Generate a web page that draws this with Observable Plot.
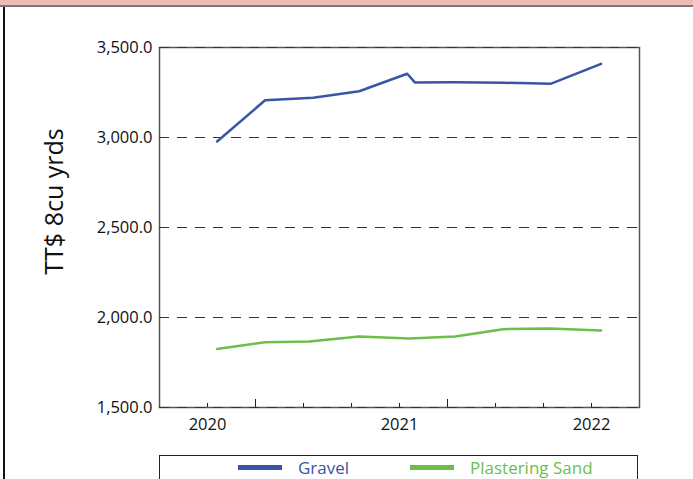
<!DOCTYPE html>
<html>
<head>
<meta charset="utf-8">
<script src="https://cdn.jsdelivr.net/npm/d3@7"></script>
<script src="https://cdn.jsdelivr.net/npm/@observablehq/plot@0.6"></script>
<style>
  html, body { margin: 0; padding: 0; background: #fff; width: 693px; height: 479px; overflow: hidden; }
  body { position: relative; font-family: "Open Sans", "Noto Sans", sans-serif; }
  #band { position: absolute; left: 0; top: 0; width: 693px; height: 5px; background: #e9bcb4; border-bottom: 2px solid #7f7473; }
  #leftline { position: absolute; left: 3px; top: 7px; width: 2px; height: 472px; background: #111; }
  #chart { position: absolute; left: 0; top: 0; }
  #legend { position: absolute; left: 159px; top: 455px; width: 479px; height: 40px; border: 1px solid #222; box-sizing: border-box; }
  .item { position: absolute; top: 3px; font-size: 17px; line-height: 17px; display: flex; align-items: center; }
  .sw { display: inline-block; width: 44px; height: 5px; margin-right: 16px; }
</style>
</head>
<body>
<div id="band"></div>
<div id="leftline"></div>
<div id="chart"></div>
<div id="legend"></div>
<script>
const yTitle = "TT$ 8cu yrds";
const seriesNames = ["Gravel", "Plastering Sand"];
const seriesColors = ["#3b55a6", "#6bbf4a"];
const gravelX = [2020.05, 2020.30, 2020.55, 2020.79, 2021.04, 2021.08, 2021.29, 2021.54, 2021.79, 2022.05];
const gravelY = [2978, 3207, 3221, 3257, 3354, 3306, 3307, 3304, 3299, 3409];
const sandX = [2020.05, 2020.30, 2020.53, 2020.79, 2021.05, 2021.29, 2021.54, 2021.78, 2022.05];
const sandY = [1825, 1863, 1867, 1894, 1884, 1894, 1935, 1939, 1928];
const yTicks = [1500, 2000, 2500, 3000, 3500];
const xLabelTicks = [2020, 2021, 2022];
const xShortTicks = [2020, 2020.5, 2020.75, 2021, 2021.5, 2021.75, 2022];
const xLongTicks = [2020.25, 2021.25];

const data = [
  ...gravelX.map((x, i) => ({series: seriesNames[0], x, y: gravelY[i]})),
  ...sandX.map((x, i) => ({series: seriesNames[1], x, y: sandY[i]}))
];

const H = 450, MT = 47, MB = 43;
const frameH = H - MT - MB;

const plot = Plot.plot({
  width: 693,
  height: H,
  marginTop: MT,
  marginBottom: MB,
  marginLeft: 159,
  marginRight: 54,
  style: {fontFamily: "'Open Sans', 'Noto Sans', sans-serif", fontSize: "16px", color: "#111", background: "transparent"},
  x: {domain: [2019.75, 2022.25]},
  y: {domain: [1500, 3500]},
  color: {domain: seriesNames, range: seriesColors},
  marks: [
    Plot.frame({stroke: "#555", strokeWidth: 1.5}),
    Plot.ruleY(yTicks, {stroke: "#333", strokeWidth: 1.2, strokeDasharray: "10,8"}),
    Plot.ruleX(xShortTicks, {stroke: "#222", strokeWidth: 1, insetTop: frameH - 4}),
    Plot.ruleX(xLongTicks, {stroke: "#222", strokeWidth: 1, insetTop: frameH - 8}),
    Plot.axisY({ticks: yTicks, tickSize: 0, tickPadding: 7, tickFormat: d3.format(",.1f"), label: null, fontSize: 16.5}),
    Plot.axisX({ticks: xLabelTicks, tickSize: 0, tickPadding: 11, tickFormat: d => String(d), label: null, fontSize: 16.5}),
    Plot.line(data, {x: "x", y: "y", z: "series", stroke: "series", strokeWidth: 2.5}),
    Plot.text([yTitle], {frameAnchor: "left", textAnchor: "middle", dx: -105, dy: -26, rotate: -90, fontSize: 25, fill: "#111"})
  ]
});
document.getElementById("chart").appendChild(plot);

const legend = document.getElementById("legend");
const lefts = [78, 250];
seriesNames.forEach((name, i) => {
  const item = document.createElement("div");
  item.className = "item";
  item.style.left = lefts[i] + "px";
  item.style.color = seriesColors[i];
  const sw = document.createElement("span");
  sw.className = "sw";
  sw.style.background = seriesColors[i];
  item.appendChild(sw);
  item.appendChild(document.createTextNode(name));
  legend.appendChild(item);
});
</script>
</body>
</html>
